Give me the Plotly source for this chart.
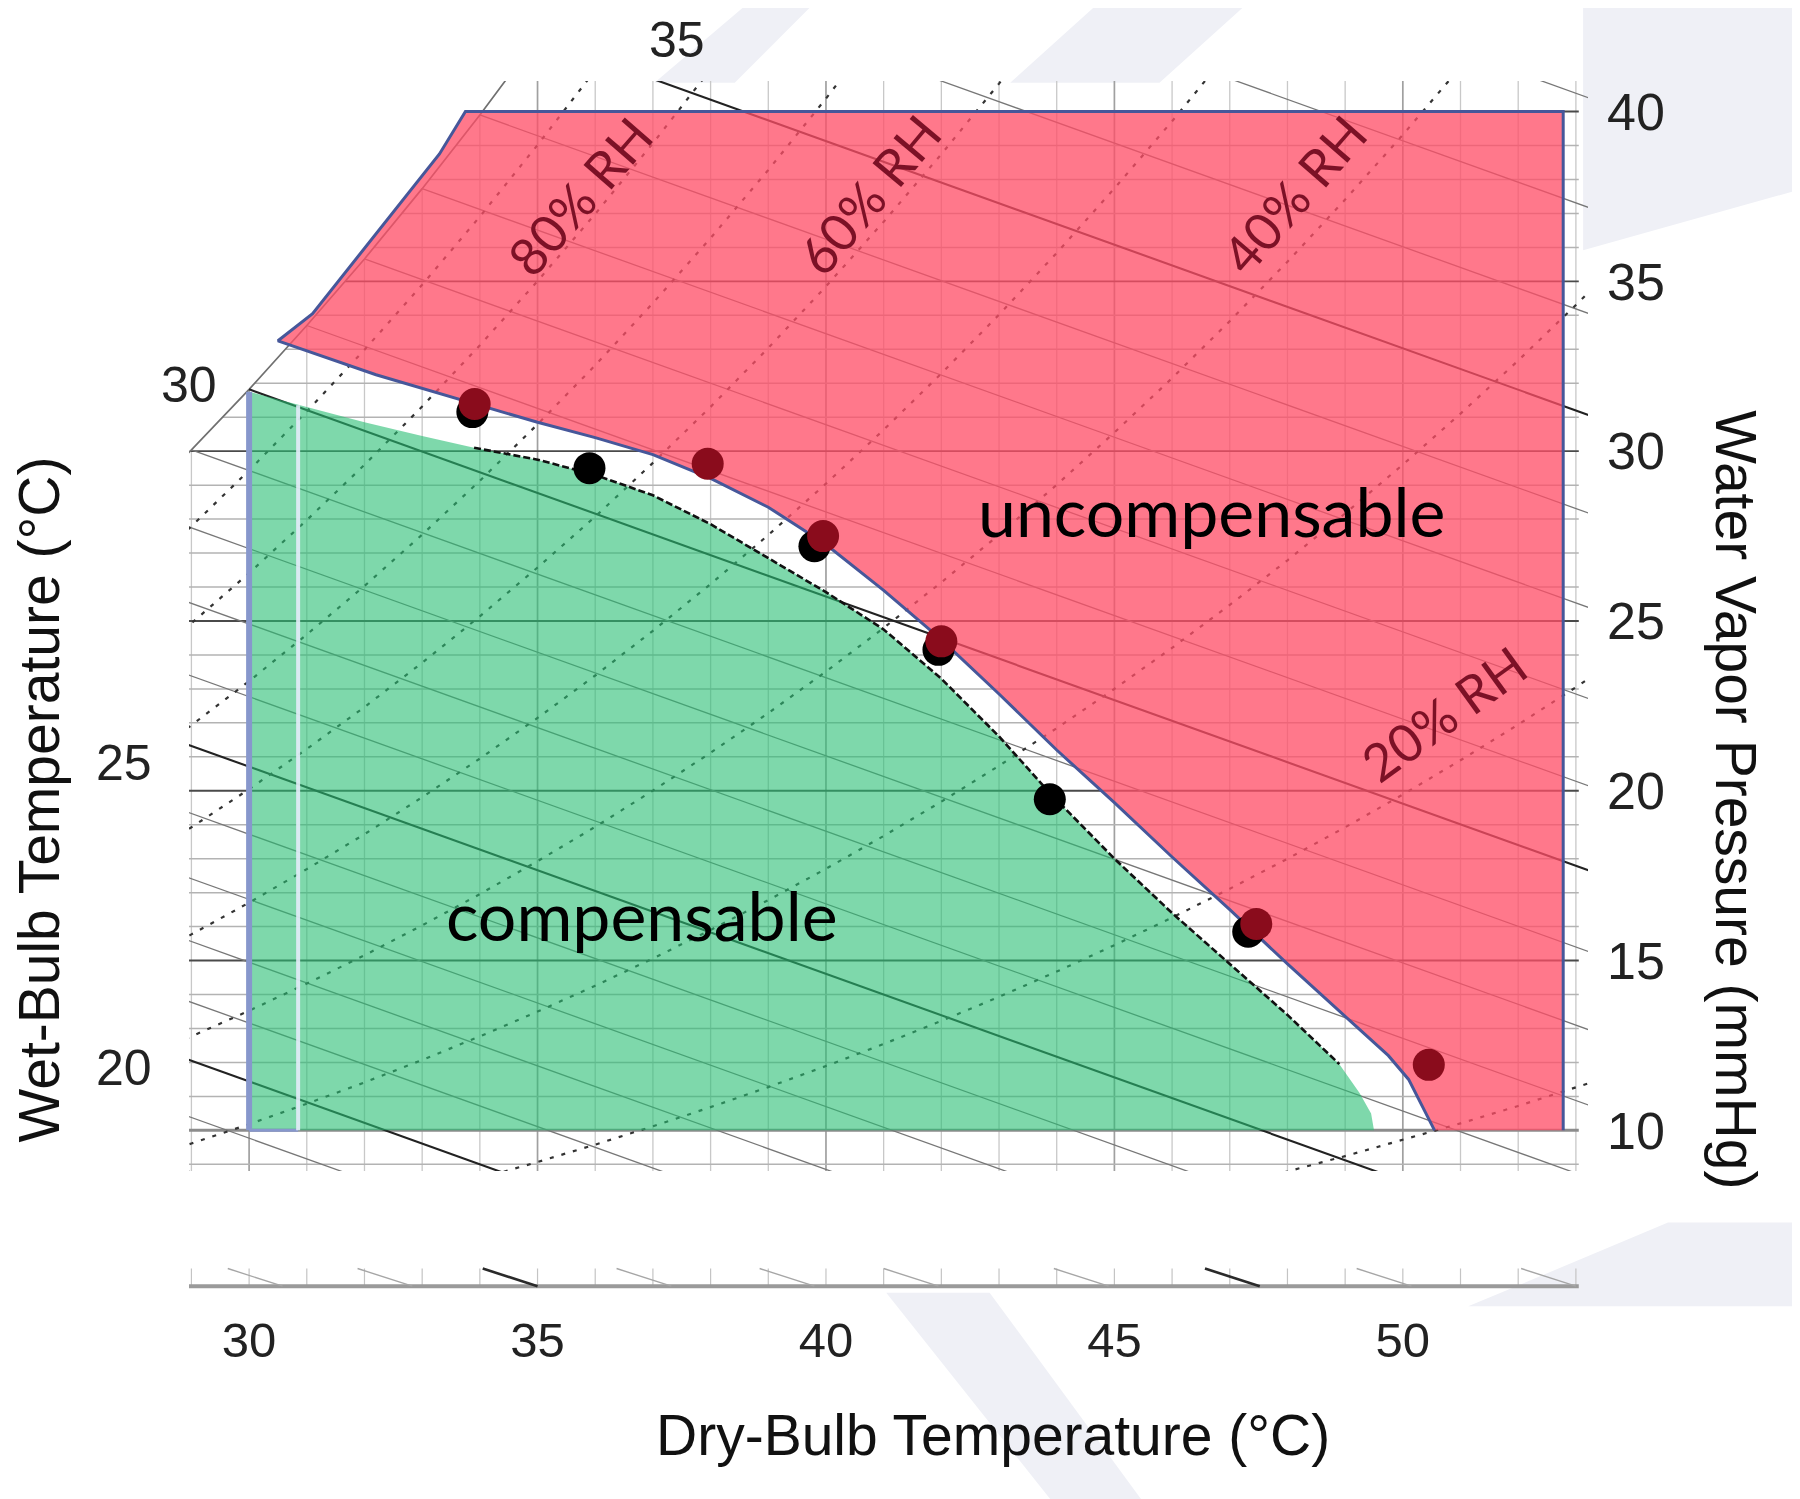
import numpy as np
import plotly.graph_objects as go

# saturation vapour pressure table (mmHg) that the chart guides are laid out on
sat_temp = [15, 16, 17, 18, 19, 20, 21, 22, 23, 24, 25, 26, 27, 28, 29, 30, 31, 32, 33, 34,
            35, 36, 37, 38, 39, 40, 41, 42, 43, 44, 45, 46, 47, 48, 49, 50, 51, 52, 53, 54, 55]
sat_mmhg = [12.79, 13.63, 14.53, 15.48, 16.48, 17.54, 18.65, 19.83, 21.07, 22.38, 23.76, 25.21,
            26.74, 28.35, 30.04, 31.82, 33.70, 35.66, 37.73, 39.90, 42.18, 44.56, 47.07, 49.69,
            52.44, 55.32, 58.34, 61.50, 64.80, 68.26, 71.88, 75.65, 79.60, 83.71, 88.02, 92.51,
            97.20, 102.09, 107.20, 112.51, 118.04]

# dotted RH lines (10 % ... 90 %), as fraction of saturation where they sit on this chart
rh_line_frac = [0.105, 0.215, 0.32, 0.425, 0.525, 0.63, 0.73, 0.83, 0.925]
wb_lines = [18, 19, 20, 21, 22, 23, 24, 25, 26, 27, 28, 29, 30, 31, 32, 33, 34, 35, 36, 37, 38]
wb_slope = 0.61  # mmHg drop per degC along a wet-bulb line

# uncompensable region (red), outline
uncomp_x = [30.5, 31.1, 33.3, 33.75, 52.78, 52.78, 50.55, 50.1, 49.75, 49.0, 48.0, 47.0, 46.0,
            45.0, 44.0, 43.0, 42.0, 41.0, 40.0, 39.0, 38.0, 37.0, 36.0, 35.0, 33.9, 32.2, 30.5]
uncomp_y = [33.25, 34.05, 38.75, 40.0, 40.0, 10.0, 10.0, 11.5, 12.2, 13.35, 14.9, 16.5, 18.05,
            19.65, 21.2, 22.85, 24.45, 25.9, 27.25, 28.35, 29.2, 29.9, 30.4, 30.85, 31.4, 32.25, 33.25]

# compensable region (green)
comp_x = [30.0, 30.0, 31.0, 32.0, 33.0, 33.9, 35.0, 36.0, 37.0, 38.0, 39.0, 40.0, 41.0, 42.0,
          43.0, 43.9, 45.0, 46.0, 47.0, 48.0, 48.9, 49.25, 49.45, 49.5, 30.0]
comp_y = [10.0, 31.75, 31.3, 30.85, 30.45, 30.1, 29.75, 29.3, 28.7, 27.85, 26.85, 25.85, 24.75,
          23.3, 21.6, 19.9, 18.0, 16.4, 14.9, 13.4, 11.95, 11.1, 10.5, 10.0, 10.0]

# measured limits
red_x = [33.91, 37.95, 39.95, 42.0, 47.46, 50.45]
red_y = [31.39, 29.63, 27.5, 24.4, 16.08, 11.93]
black_x = [33.87, 35.9, 39.8, 41.95, 43.88, 47.32]
black_y = [31.15, 29.5, 27.2, 24.15, 19.75, 15.85]

# wet-bulb stubs on the lower strip (dry-bulb where they meet the base line)
strip_wb_x = [30.58, 32.83, 35.0, 37.32, 39.8, 41.95, 44.9, 47.52, 50.15, 53.0]
strip_wb_dark = [35.0, 47.52]

db_ticks = [30, 35, 40, 45, 50]
vp_ticks = [10, 15, 20, 25, 30, 35, 40]
wb_tick_text = ['30', '25', '20', '35']

X0, X1 = 28.958, 53.21
Y0, Y1 = 8.8, 40.9

fig = go.Figure()


def add_lines(xs, ys, color, width, dash='solid', xa='x', ya='y'):
    fig.add_trace(go.Scatter(x=xs, y=ys, mode='lines', xaxis=xa, yaxis=ya,
                             line=dict(color=color, width=width, dash=dash),
                             hoverinfo='skip', showlegend=False))


def psat(t):
    return float(np.interp(t, sat_temp, sat_mmhg))


# vertical grid (one per degC), stopping at the saturation curve
vx_l, vy_l, vx_d, vy_d = [], [], [], []
for t in range(29, 54):
    top = min(Y1, psat(t))
    if t % 5 == 0:
        vx_d += [t, t, None]; vy_d += [Y0, top, None]
    else:
        vx_l += [t, t, None]; vy_l += [Y0, top, None]
add_lines(vx_l, vy_l, '#c8c8c8', 1.3)
add_lines(vx_d, vy_d, '#a0a0a0', 1.7)

# horizontal grid (one per mmHg), starting at the saturation curve
hx_l, hy_l, hx_d, hy_d = [], [], [], []
for p in range(9, 41):
    start = float(np.interp(p, sat_mmhg, sat_temp))
    if p == 10:
        continue
    if p % 5 == 0:
        hx_d += [start, 53.05, None]; hy_d += [p, p, None]
    else:
        hx_l += [start, 53.05, None]; hy_l += [p, p, None]
add_lines(hx_l, hy_l, '#b3b3b3', 1.5)
add_lines(hx_d, hy_d, '#4a4a4a', 1.9)
add_lines([X0, 53.05], [10, 10], '#8c8c8c', 3)

# saturation curve
add_lines(sat_temp, sat_mmhg, '#707070', 1.7)

# wet-bulb lines
wx_l, wy_l, wx_d, wy_d = [], [], [], []
for tw in wb_lines:
    e0 = psat(tw)
    seg_x = [tw, 54.0, None]
    seg_y = [e0, e0 - wb_slope * (54.0 - tw), None]
    if tw % 5 == 0:
        wx_d += seg_x; wy_d += seg_y
    else:
        wx_l += seg_x; wy_l += seg_y
add_lines(wx_l, wy_l, '#777777', 1.3)
add_lines(wx_d, wy_d, '#222222', 2.1)

# relative humidity lines (dotted)
for frac in rh_line_frac:
    add_lines(sat_temp, [frac * v for v in sat_mmhg], '#333333', 2.2, dash='4px,8px')

# regions
fig.add_trace(go.Scatter(x=comp_x, y=comp_y, mode='lines', fill='toself',
                         fillcolor='rgba(40, 190, 115, 0.6)', line=dict(width=0),
                         hoverinfo='skip', showlegend=False))
fig.add_trace(go.Scatter(x=uncomp_x, y=uncomp_y, mode='lines', fill='toself',
                         fillcolor='rgba(255, 78, 102, 0.76)', line=dict(width=0),
                         hoverinfo='skip', showlegend=False))

# outline of the red region (bottom edge left open)
edge_x = uncomp_x[6:] + uncomp_x[1:6]
edge_y = uncomp_y[6:] + uncomp_y[1:6]
add_lines(edge_x, edge_y, '#46579a', 3)

# left strip of the green region
add_lines([comp_x[0], comp_x[1]], [comp_y[0], comp_y[1]], '#8797cc', 6)
add_lines([30.0, 30.85], [10.0, 10.0], '#8797cc', 3)
add_lines([30.85, 30.85], [10.0, 31.35], 'rgba(228, 236, 250, 0.9)', 4)

# dashed upper limit of the compensable zone
add_lines(comp_x[5:21], comp_y[5:21], '#111111', 2.6, dash='7px,3px')

# measurements
fig.add_trace(go.Scatter(x=black_x, y=black_y, mode='markers',
                         marker=dict(size=32, color='black'), hoverinfo='skip', showlegend=False))
fig.add_trace(go.Scatter(x=red_x, y=red_y, mode='markers',
                         marker=dict(size=32, color='#8a0c1c'), hoverinfo='skip', showlegend=False))

# lower strip of the chart
sx, sy, dx, dy = [], [], [], []
for t in range(29, 54):
    sx += [t, t, None]; sy += [5.43, 5.95, None]
add_lines(sx, sy, '#c4c4c4', 1.2, xa='x2', ya='y2')
add_lines([X0, 53.05], [5.43, 5.43], '#9a9a9a', 4, xa='x2', ya='y2')
for xe in strip_wb_x:
    if xe in strip_wb_dark:
        dx += [xe - 0.95, xe, None]; dy += [5.95, 5.43, None]
    else:
        add_lines([xe - 0.95, xe, None], [5.95, 5.43, None], '#a6a6a6', 1.4, xa='x2', ya='y2')
add_lines(dx, dy, '#2a2a2a', 2.6, xa='x2', ya='y2')

# faint slide watermark behind the chart
wm = '#eff0f6'
shapes = [
    dict(type='path', path='M 0.9965 1.0668 L 1.1516 1.0668 L 1.1516 0.9106 L 0.9965 0.8604 Z'),
    dict(type='path', path='M 0.3327 0.9986 L 0.3901 0.9986 L 0.4492 1.0668 L 0.4024 1.0668 Z'),
    dict(type='path', path='M 0.5870 0.9986 L 0.6937 0.9986 L 0.7593 1.0668 L 0.6526 1.0668 Z'),
    dict(type='path', path='M 0.4984 0.0011 L 0.5723 0.0011 L 0.6806 -0.1693 L 0.6157 -0.1693 Z'),
    dict(type='path', path='M 0.9144 -0.0102 L 1.1516 -0.0102 L 1.1516 0.0589 L 1.0572 0.0589 Z'),
]
for s in shapes:
    s.update(xref='paper', yref='paper', fillcolor=wm, line=dict(width=0), layer='below')

# text
ann = []
RH_RED = '#7c1126'
for txt, ax, ay, ang in [('80% RH', 35.73, 37.5, -49), ('60% RH', 40.75, 37.57, -50),
                         ('40% RH', 48.11, 37.57, -49), ('20% RH', 50.72, 22.28, -36)]:
    ann.append(dict(x=ax, y=ay, xref='x', yref='y', text=txt, textangle=ang, showarrow=False,
                    xanchor='center', yanchor='middle',
                    font=dict(family='Lato', size=52, color=RH_RED)))
ann.append(dict(x=46.68, y=28.25, xref='x', yref='y', text='uncompensable', showarrow=False,
                xanchor='center', yanchor='middle', font=dict(family='Lato', size=68, color='black')))
ann.append(dict(x=36.81, y=16.35, xref='x', yref='y', text='compensable', showarrow=False,
                xanchor='center', yanchor='middle', font=dict(family='Lato', size=68, color='black')))
# wet-bulb scale labels sit outside the plotting area
for txt, px_, py_ in zip(wb_tick_text, [0.0003, -0.0465, -0.0465, 0.3488], [0.7494, 0.4378, 0.1863, 1.0338]):
    ann.append(dict(x=px_, y=py_, xref='paper', yref='paper', text=txt, showarrow=False,
                    xanchor='center', yanchor='middle',
                    font=dict(family='Liberation Sans', size=50, color='#222222')))
title_font = dict(family='Liberation Sans', size=57, color='#111111')
ann.append(dict(x=0.5747, y=-0.1162, xref='paper', yref='paper', text='Dry-Bulb Temperature (°C)',
                showarrow=False, xanchor='center', yanchor='middle', font=title_font))
ann.append(dict(x=-0.1075, y=0.4073, xref='paper', yref='paper', text='Wet-Bulb Temperature (°C)',
                textangle=-90, showarrow=False, xanchor='center', yanchor='middle', font=title_font))
ann.append(dict(x=1.1056, y=0.4073, xref='paper', yref='paper', text='Water Vapor Pressure (mmHg)',
                textangle=90, showarrow=False, xanchor='center', yanchor='middle', font=title_font))

fig.update_layout(
    width=1800, height=1499,
    margin=dict(l=181, r=220, t=73, b=213),
    paper_bgcolor='white', plot_bgcolor='white',
    showlegend=False,
    annotations=ann,
    shapes=shapes,
    xaxis=dict(range=[X0, X1], domain=[0, 1], anchor='y', showgrid=False, zeroline=False,
               showticklabels=False, ticks=''),
    yaxis=dict(range=[Y0, Y1], domain=[0.1013, 1], anchor='x', side='right', tickvals=vp_ticks,
               showgrid=False, zeroline=False, ticks='', ticklabelstandoff=18,
               tickfont=dict(family='Liberation Sans', size=52, color='#222222')),
    xaxis2=dict(range=[X0, X1], domain=[0, 1], anchor='y2', matches='x', tickvals=db_ticks,
                showgrid=False, zeroline=False, ticks='', ticklabelstandoff=13,
                tickfont=dict(family='Liberation Sans', size=49, color='#222222')),
    yaxis2=dict(range=[5.2, 6.1], domain=[0, 0.0252], anchor='x2', visible=False),
)

fig.write_html('out.html')
